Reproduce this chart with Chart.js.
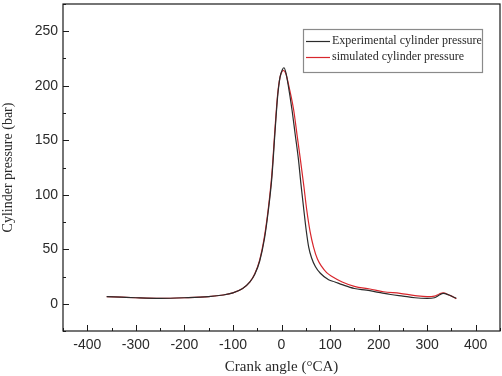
<!DOCTYPE html>
<html>
<head>
<meta charset="utf-8">
<script src="https://cdn.jsdelivr.net/npm/chart.js@4/dist/chart.umd.min.js"></script>
<style>
html,body{margin:0;padding:0;background:#fff;}
#wrap{width:502px;height:376px;position:relative;}
</style>
</head>
<body>
<div id="wrap"><canvas id="c" width="502" height="376"></canvas></div>
<script>
// ---- data ----
const expAngles = [-360,-330,-300,-250,-200,-150,-120,-100,-80,-65,-55,-45,-35,-27,-20,-13,-8,-3,2,5,9,14,21.6,28,35,40,46,51,56,62,70,80,97,110,125,150,175,200,225,250,275,300,315,325,333,345,355,360];
const expPressure = [6.5,6,5.5,5,5.5,6.5,8,10,14,20,27,39,60,86,115,160,190,208,215,216.5,212,200,178,156,132,110,86,67,52,42,34,28,22,20,17.5,14,12.5,10.5,8.5,7,5.5,5,5.5,8,9.5,8,6,5];
const simAngles = [-360,-330,-300,-250,-200,-150,-120,-100,-80,-65,-55,-45,-35,-27,-20,-13,-8,-3,1,4,9,15,25,32,39,46,52,59,66,74,83,93,104,125,150,182,210,244,275,300,315,325,333,345,355,360];
const simPressure = [6.5,6,5.5,5,5.5,6.5,8,10,14,20,27.5,40,62,88,118,163,192,208,213,214,211,200,178,155,132,108,86,66,52,41,34,28.5,25,20,16,13.5,11,9.5,7.5,6.5,7,9,10,8,6,4.5];
const seriesLabels = ["Experimental cylinder pressure","simulated cylinder pressure"];
const xTickLabels = [-400,-300,-200,-100,0,100,200,300,400];
const yTickLabels = [0,50,100,150,200,250];
const xMinorTicks = [-450,-350,-250,-150,-50,50,150,250,350,450];
const yMinorTicks = [-25,25,75,125,175,225,275];

const expColor = '#2b2b2b';
const simColor = '#d8262c';
const textColor = '#2a2a2a';

function pts(xs, ys){ return xs.map((x,i)=>({x:x,y:ys[i]})); }

const framePlugin = {
  id:'frame',
  afterDatasetsDraw(chart){
    const ctx = chart.ctx, a = chart.chartArea;
    const xs = chart.scales.x, ys = chart.scales.y;
    ctx.save();
    ctx.strokeStyle = '#1a1a1a';
    ctx.lineWidth = 1.2;
    ctx.strokeRect(a.left, a.top, a.right-a.left, a.bottom-a.top);
    ctx.lineWidth = 1;
    ctx.beginPath();
    xTickLabels.forEach(v=>{const p=Math.round(xs.getPixelForValue(v))+0.5; ctx.moveTo(p,a.bottom); ctx.lineTo(p,a.bottom-6);});
    xMinorTicks.forEach(v=>{const p=Math.round(xs.getPixelForValue(v))+0.5; ctx.moveTo(p,a.bottom); ctx.lineTo(p,a.bottom-3);});
    yTickLabels.forEach(v=>{const p=Math.round(ys.getPixelForValue(v))+0.5; ctx.moveTo(a.left,p); ctx.lineTo(a.left+6,p);});
    yMinorTicks.forEach(v=>{const p=Math.round(ys.getPixelForValue(v))+0.5; ctx.moveTo(a.left,p); ctx.lineTo(a.left+3,p);});
    ctx.stroke();
    // legend box
    const bx=303, by=29, bw=179, bh=43;
    ctx.fillStyle='#fff';
    ctx.fillRect(bx,by,bw,bh);
    ctx.strokeStyle='#8a8a8a';
    ctx.lineWidth=1.2;
    ctx.strokeRect(bx+0.5,by+0.5,bw,bh);
    const rows=[{c:expColor,y:by+12},{c:simColor,y:by+28}];
    ctx.font='12px "Liberation Serif", "Times New Roman", serif';
    ctx.textBaseline='middle';
    ctx.fillStyle=textColor;
    rows.forEach((r,i)=>{
      ctx.strokeStyle=r.c; ctx.lineWidth=1.2;
      ctx.beginPath(); ctx.moveTo(bx+3,r.y+0.5); ctx.lineTo(bx+27,r.y+0.5); ctx.stroke();
      ctx.fillText(chart.data.datasets[i].label, bx+29, r.y);
    });
    ctx.restore();
  }
};

new Chart(document.getElementById('c'), {
  type:'line',
  data:{
    datasets:[
      {label:seriesLabels[0], data:pts(expAngles,expPressure), borderColor:expColor, borderWidth:1.2, pointRadius:0, cubicInterpolationMode:'monotone', fill:false},
      {label:seriesLabels[1], data:pts(simAngles,simPressure), borderColor:simColor, borderWidth:1.2, pointRadius:0, cubicInterpolationMode:'monotone', fill:false}
    ]
  },
  options:{
    responsive:false,
    animation:false,
    layout:{padding:{top:4,right:2,left:0,bottom:0}},
    plugins:{legend:{display:false}, tooltip:{enabled:false}},
    scales:{
      x:{
        type:'linear', min:-450, max:450,
        afterBuildTicks(s){ s.ticks = xTickLabels.map(v=>({value:v})); },
        afterFit(s){ s.height = 45; s.paddingLeft = 0; s.paddingRight = 0; },
        grid:{display:false, drawTicks:false},
        border:{display:false},
        ticks:{color:textColor, padding:6, maxRotation:0, autoSkip:false, font:{family:'"Liberation Sans", Arial, sans-serif', size:14}},
        title:{display:true, text:'Crank angle (°CA)', color:textColor, padding:{top:0,bottom:0}, font:{family:'"Liberation Serif", "Times New Roman", serif', size:15}}
      },
      y:{
        type:'linear', min:-25, max:275,
        afterBuildTicks(s){ s.ticks = yTickLabels.map(v=>({value:v})); },
        afterFit(s){ s.width = 63; s.paddingTop = 0; s.paddingBottom = 0; },
        grid:{display:false, drawTicks:false},
        border:{display:false},
        ticks:{color:textColor, padding:5, autoSkip:false, font:{family:'"Liberation Sans", Arial, sans-serif', size:14}},
        title:{display:true, text:'Cylinder pressure (bar)', color:textColor, padding:{top:0,bottom:0}, font:{family:'"Liberation Serif", "Times New Roman", serif', size:14}}
      }
    }
  },
  plugins:[framePlugin]
});
</script>
</body>
</html>
